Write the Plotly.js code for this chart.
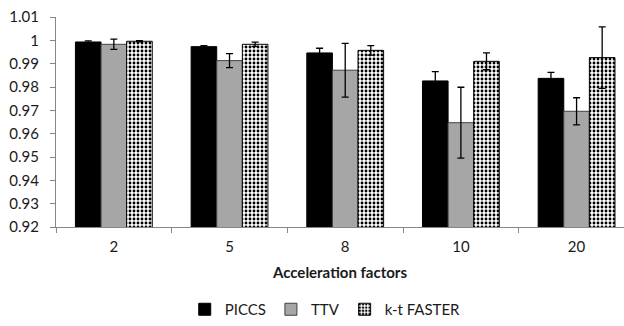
<!DOCTYPE html>
<html>
<head>
<meta charset="utf-8">
<script src="https://cdn.plot.ly/plotly-3.0.1.min.js"></script>
<style>html,body{margin:0;padding:0;background:#fff;}#chart{width:624px;height:326px;}</style>
</head>
<body>
<div id="chart"></div>
<script>
var categories = ["2", "5", "8", "10", "20"];
var piccs = [0.9993, 0.9973, 0.9946, 0.9826, 0.9837];
var piccsErr = [0.0005, 0.0004, 0.0020, 0.0040, 0.0026];
var ttv = [0.9983, 0.9913, 0.9872, 0.9647, 0.9696];
var ttvErr = [0.0022, 0.0030, 0.0115, 0.0152, 0.0058];
var ktf = [0.9996, 0.9983, 0.9957, 0.9910, 0.9926];
var ktfErr = [0.0003, 0.0009, 0.0020, 0.0036, 0.0132];
var seriesNames = ["PICCS", "TTV", "k-t FASTER"];

var errStyle = function (arr) {
  return {type: "data", array: arr, visible: true, color: "#000", thickness: 1.3, width: 3.5};
};

var traces = [
  {type: "bar", name: seriesNames[0], x: categories, y: piccs, error_y: errStyle(piccsErr),
   marker: {color: "#000000", line: {color: "#000", width: 1}}},
  {type: "bar", name: seriesNames[1], x: categories, y: ttv, error_y: errStyle(ttvErr),
   marker: {color: "#a6a6a6", line: {color: "#404040", width: 1}}},
  {type: "bar", name: seriesNames[2], x: categories, y: ktf, error_y: errStyle(ktfErr),
   marker: {color: "#ffffff", line: {color: "#000", width: 1},
            pattern: {shape: ".", fgcolor: "#000", bgcolor: "#fff", size: 4, solidity: 0.4}}}
];

var layout = {
  width: 624, height: 326,
  margin: {l: 56, r: 0, t: 17, b: 99, pad: 0},
  paper_bgcolor: "#fff", plot_bgcolor: "#fff",
  font: {family: "Lato, 'Open Sans', sans-serif", size: 15, color: "#1a1a1a"},
  barmode: "group", bargap: 0.336, bargroupgap: 0,
  showlegend: true,
  legend: {orientation: "h", x: 0.474, xanchor: "center", y: -0.035, yref: "container", yanchor: "bottom",
           font: {size: 15}, itemwidth: 30, tracegroupgap: 0},
  xaxis: {type: "category", range: [-0.5, 4.41], showgrid: false, zeroline: false, automargin: false,
          showline: true, linecolor: "#868686", linewidth: 1,
          ticks: "outside", tickson: "boundaries", ticklen: 5, tickcolor: "#868686",
          ticklabelstandoff: 6,
          title: {text: "<b>Acceleration factors</b>", font: {size: 15}, standoff: 13}},
  yaxis: {range: [0.92, 1.01], dtick: 0.01, tick0: 0.92, showgrid: false, zeroline: false, automargin: false,
          showline: true, linecolor: "#868686", linewidth: 1,
          ticks: "outside", ticklen: 5, tickcolor: "#868686", ticklabelstandoff: 8}
};

Plotly.newPlot("chart", traces, layout, {displayModeBar: false, staticPlot: true});
</script>
</body>
</html>
